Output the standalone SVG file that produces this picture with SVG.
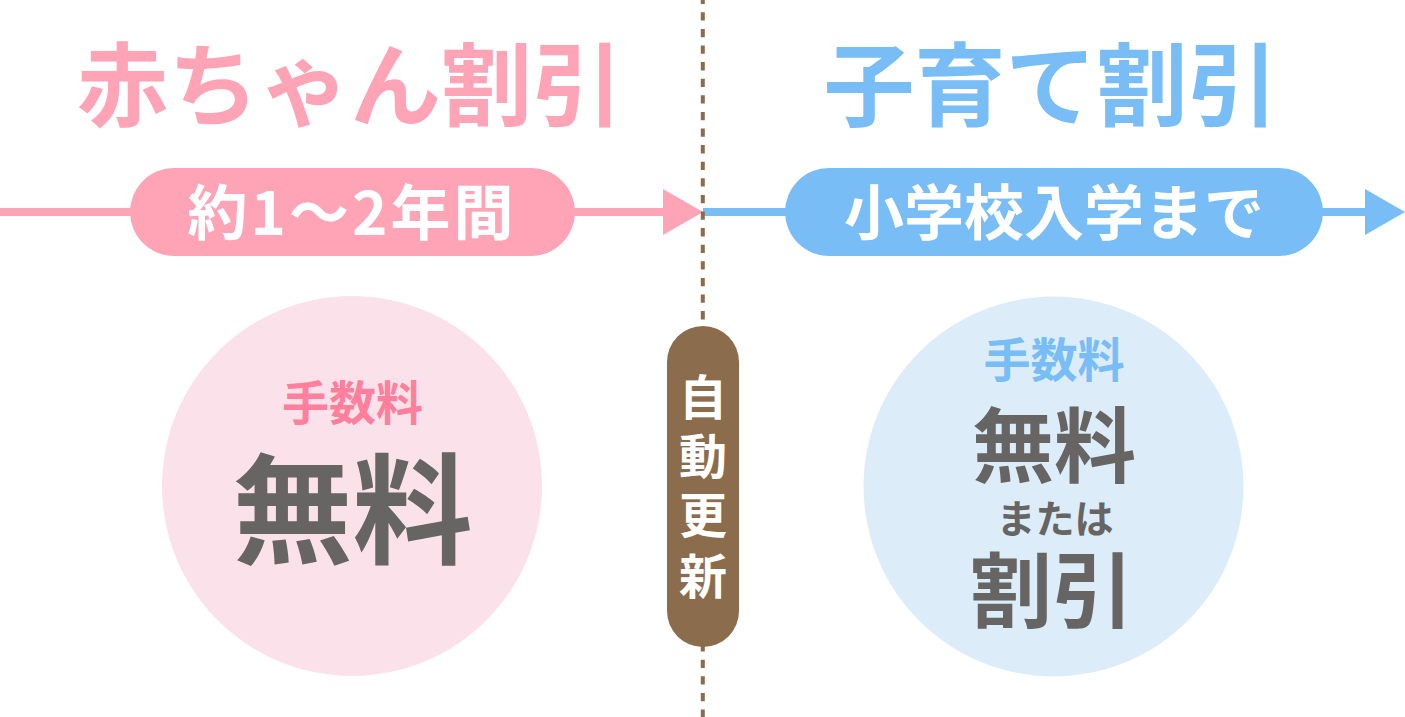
<svg xmlns="http://www.w3.org/2000/svg" width="1405" height="717" viewBox="0 0 1405 717">
<defs>
<style>
text{font-family:"Noto Sans CJK JP","Noto Sans CJK SC",sans-serif;font-weight:700;text-anchor:middle}
.title{font-size:91px}
.pink{fill:#ffa4b6}
.blue{fill:#78bdf6}
.pilltxt{font-size:60px;fill:#ffffff}
.grey{fill:#676564}
.vtxt{font-size:48px;fill:#ffffff}
</style>
</defs>
<rect width="1405" height="717" fill="#ffffff"/>

<g id="title-left"><text class="title pink" x="350" y="119">赤ちゃん割引</text></g>
<g id="title-right"><text class="title blue" x="1051" y="119">子育て割引</text></g>

<g id="connectors">
<line x1="0" y1="212" x2="665" y2="212" stroke="#ffa4b6" stroke-width="8"/>
<polygon points="663,189 703,212 663,235" fill="#ffa4b6"/>
<line x1="703" y1="212" x2="1367" y2="212" stroke="#78bdf6" stroke-width="8"/>
<polygon points="1365,189 1405,212 1365,235" fill="#78bdf6"/>
<line x1="702.8" y1="0" x2="702.8" y2="717" stroke="#8b6c4c" stroke-width="4" stroke-dasharray="8.3 8.3" stroke-dashoffset="4.3"/>
</g>

<g id="pill-left">
<rect x="130" y="168" width="445" height="88" rx="44" ry="44" fill="#ffa4b6"/>
<text class="pilltxt" x="352" y="235" style="letter-spacing:3px">約1〜2年間</text>
</g>
<g id="pill-right">
<rect x="785" y="168" width="538" height="88" rx="44" ry="44" fill="#78bdf6"/>
<text class="pilltxt" x="1054" y="235">小学校入学まで</text>
</g>

<g id="renewal">
<rect x="667" y="326" width="72" height="321" rx="36" ry="36" fill="#8b6c4c"/>
<text class="vtxt" x="703" y="415">自</text>
<text class="vtxt" x="703" y="474">動</text>
<text class="vtxt" x="703" y="533">更</text>
<text class="vtxt" x="703" y="594">新</text>
</g>

<g id="circle-left">
<circle cx="352" cy="486" r="190" fill="#fbe2ea"/>
<text x="352.5" y="420" style="font-size:47px;fill:#ff7f9c">手数料</text>
<text class="grey" x="352.5" y="555" style="font-size:120px">無料</text>
</g>

<g id="circle-right">
<circle cx="1053.5" cy="486.5" r="190" fill="#dcedf9"/>
<text class="blue" x="1054" y="377" style="font-size:47px">手数料</text>
<text class="grey" x="1054" y="476" style="font-size:82px">無料</text>
<text class="grey" x="1055" y="533" style="font-size:39px">または</text>
<text class="grey" x="1052" y="621" style="font-size:82px">割引</text>
</g>
</svg>
